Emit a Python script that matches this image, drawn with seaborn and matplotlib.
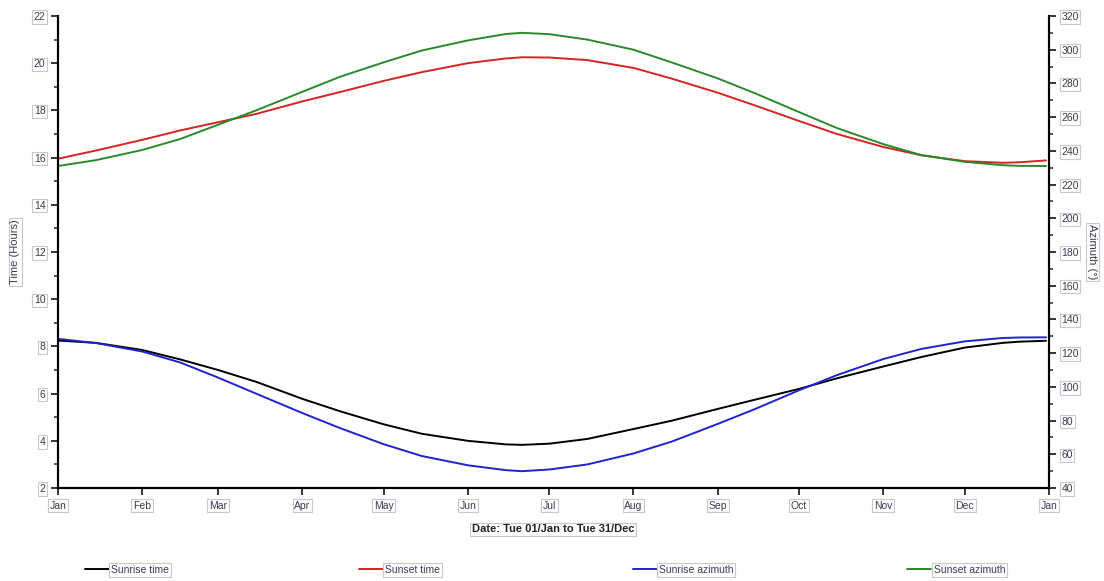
import pandas as pd
import numpy as np
import matplotlib
matplotlib.use("Agg")
import matplotlib.pyplot as plt
import matplotlib.dates as mdates
from matplotlib.ticker import MultipleLocator
import seaborn as sns

# sun times / azimuths at 1st and 15th of each month (+ solstices)
dates = ["2019-01-01", "2019-01-15", "2019-02-01", "2019-02-15", "2019-03-01", "2019-03-15",
         "2019-04-01", "2019-04-15", "2019-05-01", "2019-05-15", "2019-06-01", "2019-06-15",
         "2019-06-21", "2019-07-01", "2019-07-15", "2019-08-01", "2019-08-15", "2019-09-01",
         "2019-09-15", "2019-10-01", "2019-10-15", "2019-11-01", "2019-11-15", "2019-12-01",
         "2019-12-15", "2019-12-21", "2019-12-31"]

sunrise_time = [8.25, 8.15, 7.85, 7.45, 7.0, 6.5, 5.78, 5.25, 4.7, 4.3, 4.0, 3.85,
                3.83, 3.88, 4.08, 4.5, 4.85, 5.35, 5.75, 6.2, 6.65, 7.15, 7.55, 7.95,
                8.15, 8.2, 8.24]
sunset_time = [15.95, 16.3, 16.75, 17.15, 17.5, 17.85, 18.38, 18.78, 19.25, 19.62, 20.0, 20.2,
               20.25, 20.24, 20.13, 19.8, 19.35, 18.75, 18.2, 17.55, 17.0, 16.45, 16.1, 15.85,
               15.78, 15.8, 15.88]
sunrise_az = [128.5, 126.0, 121.0, 114.5, 105.5, 96.0, 84.5, 75.5, 66.0, 59.0, 53.5, 50.6,
              50.0, 51.0, 54.0, 60.5, 67.5, 78.0, 87.0, 98.0, 107.0, 116.5, 122.5, 127.0,
              129.0, 129.3, 129.4]
sunset_az = [231.0, 234.5, 240.5, 247.0, 255.5, 264.0, 275.0, 284.0, 292.5, 299.5, 305.5, 309.3,
             310.0, 309.2, 306.0, 300.0, 292.5, 283.0, 274.0, 263.0, 253.5, 244.0, 237.5, 233.5,
             231.5, 231.1, 231.0]

df = pd.DataFrame({
    "date": pd.to_datetime(dates),
    "Sunrise time": sunrise_time,
    "Sunset time": sunset_time,
    "Sunrise azimuth": sunrise_az,
    "Sunset azimuth": sunset_az,
})

sns.set_style("ticks")
plt.rcParams["font.family"] = ["Liberation Sans", "DejaVu Sans"]

txt_col = "#3a3a55"
box = dict(facecolor="white", edgecolor="#c8c8c8", linewidth=0.8, pad=1.2)

fig = plt.figure(figsize=(11.04, 5.81), dpi=100)
ax = fig.add_axes([0.0525, 0.160, 0.8975, 0.8125])
ax2 = ax.twinx()

sns.lineplot(data=df, x="date", y="Sunrise time", ax=ax, color="black", lw=1.4, label="Sunrise time")
sns.lineplot(data=df, x="date", y="Sunset time", ax=ax, color="#d42424", lw=1.4, label="Sunset time")
sns.lineplot(data=df, x="date", y="Sunrise azimuth", ax=ax2, color="#2222cc", lw=1.4, label="Sunrise azimuth")
sns.lineplot(data=df, x="date", y="Sunset azimuth", ax=ax2, color="#2a8a2a", lw=1.4, label="Sunset azimuth")

h1, l1 = ax.get_legend_handles_labels()
h2, l2 = ax2.get_legend_handles_labels()
for a in (ax, ax2):
    if a.get_legend() is not None:
        a.get_legend().remove()

ax.set_xlim(pd.Timestamp("2019-01-01"), pd.Timestamp("2020-01-01"))
ax.xaxis.set_major_locator(mdates.MonthLocator())
ax.xaxis.set_major_formatter(mdates.DateFormatter("%b"))

ax.set_ylim(2, 22)
ax.yaxis.set_major_locator(MultipleLocator(2))
ax.yaxis.set_minor_locator(MultipleLocator(1))
ax2.set_ylim(40, 320)
ax2.yaxis.set_major_locator(MultipleLocator(20))
ax2.yaxis.set_minor_locator(MultipleLocator(10))

for a in (ax, ax2):
    a.spines["top"].set_visible(False)
    for s in ("left", "right", "bottom"):
        a.spines[s].set_linewidth(1.5)
        a.spines[s].set_color("black")
    a.tick_params(which="major", length=5, width=1.3, labelsize=7.5, labelcolor=txt_col, pad=4)
    a.tick_params(which="minor", length=3, width=1.1)

ax.set_xlabel("Date: Tue 01/Jan to Tue 31/Dec", fontsize=8, fontweight="bold",
              color="#222222", bbox=box, labelpad=10)
ax.set_ylabel("Time (Hours)", fontsize=8, color=txt_col, bbox=box)
ax.yaxis.set_label_coords(-0.038, 0.5)
ax2.set_ylabel("Azimuth (°)", fontsize=8, color=txt_col, bbox=box, rotation=270, va="center")
ax2.yaxis.set_label_coords(1.044, 0.5)

for lab in ax.get_xticklabels() + ax.get_yticklabels() + ax2.get_yticklabels():
    lab.set_bbox(box)

# one legend per entry, spread along the bottom like the reference
handles = h1 + h2
labels = l1 + l2
anchors = [0.077, 0.325, 0.573, 0.822]
for h, l, xa in zip(handles, labels, anchors):
    leg = fig.legend([h], [l], loc="center left", bbox_to_anchor=(xa, 0.019),
                     frameon=False, fontsize=7.5, handlelength=2.3, handletextpad=0.2,
                     borderpad=0, borderaxespad=0)
    for t in leg.get_texts():
        t.set_color(txt_col)
        t.set_bbox(box)

fig.savefig("out.png", dpi=100)
